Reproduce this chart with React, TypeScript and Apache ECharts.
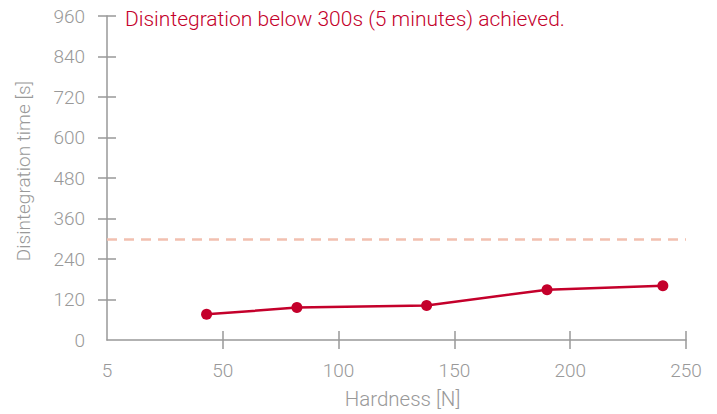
import React, { useEffect, useRef } from "react";
import * as echarts from "echarts";

const hardness = [43, 82, 138, 190, 240];
const disintegration = [76, 96, 102, 149, 161];
const limitValue = 300;
const xTickLabels = ["5", "50", "100", "150", "200", "250"];
const yTickValues = [0, 120, 240, 360, 480, 600, 720, 840, 960];
const titleText = "Disintegration below 300s (5 minutes) achieved.";

const FONT = "Roboto";
const GRAY = "#999999";
const RED = "#c4002b";

export default function App() {
  const ref = useRef<HTMLDivElement>(null);
  useEffect(() => {
    if (!ref.current) return;
    const chart = echarts.init(ref.current, null, { renderer: "svg" });
    const xTicks = xTickLabels.map((_, i) => i * 50);
    const baseX = {
      type: "value" as const,
      min: 0,
      max: 250,
      interval: 50,
      position: "bottom" as const,
      splitLine: { show: false },
    };
    const baseY = {
      type: "value" as const,
      min: 0,
      max: 960,
      interval: 120,
      position: "left" as const,
      splitLine: { show: false },
    };
    chart.setOption({
      animation: false,
      title: {
        text: titleText,
        left: 125,
        top: 8,
        padding: 0,
        textStyle: { color: RED, fontSize: 21, fontWeight: 300, fontFamily: FONT },
      },
      grid: { left: 107, right: 31, top: 16, bottom: 73 },
      xAxis: [
        {
          ...baseX,
          name: "Hardness [N]",
          nameLocation: "middle",
          nameGap: 48,
          nameTextStyle: { color: GRAY, fontSize: 20.5, fontWeight: 300, fontFamily: FONT, padding: [0, 0, 0, 12] },
          axisLine: { show: true, lineStyle: { color: GRAY, width: 1.5 } },
          axisTick: { show: true, inside: false, length: 9, lineStyle: { color: GRAY, width: 1.5 }, customValues: xTicks.slice(1) },
          axisLabel: {
            color: GRAY,
            fontSize: 19,
            fontWeight: 300,
            fontFamily: FONT,
            margin: 21,
            formatter: (v: number) => xTickLabels[Math.round(v / 50)] ?? "",
          },
        },
        {
          ...baseX,
          axisLine: { show: false },
          axisTick: { show: true, inside: true, length: 9, lineStyle: { color: GRAY, width: 1.5 }, customValues: xTicks.slice(1) },
          axisLabel: { show: false },
        },
      ],
      yAxis: [
        {
          ...baseY,
          name: "Disintegration time [s]",
          nameLocation: "middle",
          nameGap: 74,
          nameTextStyle: { color: GRAY, fontSize: 19, fontWeight: 300, fontFamily: FONT, padding: [0, 0, 0, 14] },
          axisLine: { show: true, lineStyle: { color: GRAY, width: 1.5 } },
          axisTick: { show: true, inside: false, length: 9, lineStyle: { color: GRAY, width: 1.5 }, customValues: yTickValues.slice(1) },
          axisLabel: { color: GRAY, fontSize: 19, fontWeight: 300, fontFamily: FONT, margin: 22 },
        },
        {
          ...baseY,
          axisLine: { show: false },
          axisTick: { show: true, inside: true, length: 9, lineStyle: { color: GRAY, width: 1.5 }, customValues: yTickValues.slice(1) },
          axisLabel: { show: false },
        },
      ],
      series: [
        {
          type: "line",
          xAxisIndex: 0,
          yAxisIndex: 0,
          data: hardness.map((h, i) => [h, disintegration[i]]),
          symbol: "circle",
          symbolSize: 11,
          lineStyle: { color: RED, width: 2.5 },
          itemStyle: { color: RED },
          markLine: {
            silent: true,
            symbol: "none",
            label: { show: false },
            lineStyle: { color: "#f2c0b0", width: 2.5, type: [10, 7] },
            data: [{ yAxis: limitValue }],
          },
        },
      ],
    });
    return () => chart.dispose();
  }, []);
  return <div ref={ref} style={{ width: 717, height: 414, position: "absolute", left: 0, top: 0 }} />;
}
